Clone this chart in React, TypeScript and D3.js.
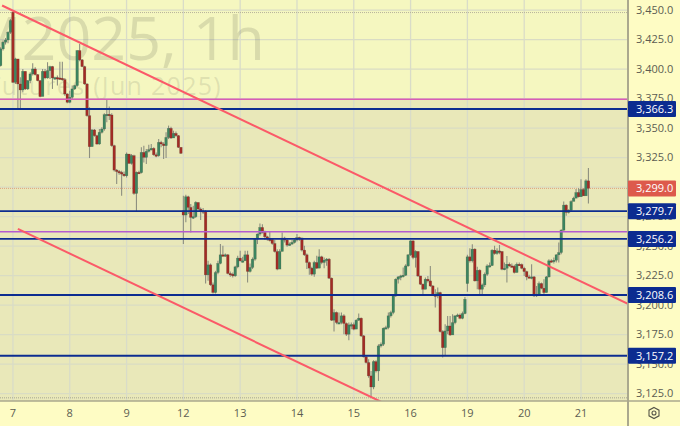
import React from 'react';
import * as d3 from 'd3';

const WIDTH = 680;
const HEIGHT = 426;

// hourly candles, open is the previous close unless listed in openGaps
const closes = [
  3417.2,3422.9,3424.8,3431.3,3441.2,3388.9,3408.7,3387.5,3382.4,3398.2,
  3383.3,3390.3,3396,3400.2,3395.4,3390.3,3376.8,3398.2,3392.6,3398.8,
  3402.2,3392.6,3392.9,3392.6,3392.3,3391.2,3379,3372,3376.2,3383.3,
  3386.1,3415.8,3407.9,3402.2,3387.5,3360.6,3334.3,3348.5,3343.7,3336.6,
  3346.5,3349.3,3361.5,3361.8,3361.2,3335.2,3314.5,3313.4,3312.6,3311.1,
  3309.7,3328.1,3320.2,3326.7,3294.7,3312.6,3312.3,3329.5,3325.3,3330.4,
  3331.8,3332.9,3327.5,3326.7,3338,3336.6,3335.2,3342.2,3349.9,3341.7,
  3345.6,3343.7,3333.8,3328.7,3276.4,3291.9,3282.9,3274.4,3275,3287.1,
  3281.5,3280,3279.5,3225.7,3234.2,3217.3,3210.8,3227.7,3235.4,3242.7,
  3241.9,3242.7,3226.9,3226.3,3224.9,3232.5,3239.9,3237.6,3237.6,3242.7,
  3228.6,3232,3239,3256,3260.3,3265.9,3261.7,3258,3256,3255.7,
  3252.3,3245.5,3230.6,3245.5,3256.9,3255.2,3250.9,3251.8,3253.2,3255.2,
  3257.4,3256.9,3246.7,3242.7,3236.2,3231.4,3226.3,3236.2,3231.4,3241,
  3236.2,3238.2,3239,3222.9,3187.3,3193.8,3185.3,3185.3,3191,3184.5,
  3175.4,3183.3,3183.5,3179.7,3187.3,3189,3174,3156.2,3151.4,3140.1,
  3130.7,3152.2,3144.3,3165.5,3166.9,3180.5,3181,3191,3193.8,3207.9,
  3222,3224,3224.8,3225.4,3233.3,3242.7,3254.5,3240.4,3245.5,3224.8,
  3217.8,3213.5,3222,3220.6,3216.3,3208.7,3207.9,3210.7,3177.6,3164,
  3178.2,3182.4,3174.8,3185.2,3190.9,3191.7,3188.9,3192.9,3205,3241,
  3237.6,3247.5,3220.6,3229.6,3213.5,3217.2,3226.2,3233.3,3233.6,3246.6,
  3243.8,3246,3245.5,3230.5,3231.3,3234.7,3233.3,3233,3227.7,3234.7,
  3234.5,3231.3,3228.5,3224,3223.4,3224,3207.9,3209.3,3218.3,3214.4,
  3210.7,3224,3237.6,3237.4,3238.1,3242.7,3244.6,3263.6,3284.8,3278.6,
  3280.5,3287.9,3290.7,3295.5,3291.9,3298,3292.7,3305.4,3299,
];

const highs = [
  3418.6,3424.3,3426.5,3432.2,3442.6,3448.9,3409.6,3408.7,3393.2,3400.2,
  3398.2,3390.9,3397.4,3405,3401.6,3396,3390.9,3400.2,3400.2,3405.9,
  3403,3402.8,3393.7,3394.6,3406.4,3406.4,3392.6,3379.6,3381.8,3386.1,
  3386.9,3416.3,3421.4,3408.7,3403,3388.1,3367.7,3349.3,3349.3,3344.5,
  3349.3,3350.7,3362.6,3374.8,3368.3,3362.6,3336,3315.4,3314.5,3314,
  3313.4,3329.5,3328.1,3328.1,3327.5,3313.4,3314,3333.8,3335.2,3332.4,
  3336,3336.6,3333.8,3329.5,3340.8,3339.4,3338,3346.5,3352.2,3351.3,
  3347.9,3347.3,3344.2,3333.8,3292.8,3293.6,3292.8,3285.7,3284.3,3288,
  3287.1,3282.9,3282.3,3280.6,3237.6,3235.4,3219.2,3229.1,3237.6,3251.8,
  3250.4,3243.9,3243.3,3228.6,3227.7,3233.4,3241.9,3246.1,3241,3246.1,
  3246.1,3235.4,3240.5,3256.9,3260.8,3269.3,3268.7,3263.1,3258.8,3262.5,
  3256.9,3255.2,3247.5,3247.5,3261.7,3258,3256,3253.2,3255.2,3256,
  3260.3,3258,3257.4,3250.4,3243.9,3237,3232.5,3237.6,3241.9,3247.5,
  3241.9,3240.5,3239.9,3239.9,3223.5,3196.6,3194.6,3193.8,3193.8,3192.4,
  3185.3,3185.3,3185.3,3185.3,3188.1,3192.9,3189.6,3174.8,3157,3154.2,
  3144.3,3153.4,3153.4,3166.9,3168.3,3181,3182.5,3193.8,3195.2,3209.3,
  3222.9,3224.8,3225.7,3231.9,3234.7,3243.2,3255.1,3255.1,3246.6,3246,
  3224.8,3218.3,3223.4,3224.8,3233.3,3217.2,3213.5,3214.9,3211.5,3178.7,
  3183.8,3190.9,3190.9,3192.3,3191.7,3192.9,3192.9,3194.6,3207,3242.7,
  3248.3,3251.7,3248.3,3232.5,3230.5,3218.3,3227.7,3234.7,3236.1,3247.5,
  3250.3,3248.3,3251.1,3246,3236.1,3241.8,3236.1,3235.3,3234.2,3236.1,
  3236.1,3235.3,3232.5,3229.1,3225.7,3234.7,3224.8,3216.3,3220,3219.2,
  3222,3224.8,3239,3239,3240.4,3243.2,3253.1,3264.4,3287.9,3285.6,
  3281.4,3289,3291.9,3298.4,3299.2,3306.8,3299.2,3306.8,3316.2,
];

const lows = [
  3402.2,3415.8,3420.9,3422,3429.9,3388.3,3387.5,3367.1,3367.1,3380.4,
  3382.4,3382.4,3388.1,3394.6,3394.6,3389.8,3376.2,3385.2,3391.5,3392,
  3391.7,3383.3,3390.9,3386.1,3390.9,3390.3,3377.6,3371.1,3371.1,3374.8,
  3382.4,3385.2,3406.7,3401.6,3386.9,3359.8,3324.7,3342.2,3342.8,3336,
  3336,3345.6,3347.9,3355,3356.9,3334.3,3313.4,3302.7,3310.6,3292.8,
  3308.9,3308.3,3319.6,3319.1,3293.6,3279.5,3311.1,3311.7,3321,3319.6,
  3329.5,3331,3326.7,3325.3,3325.9,3333.8,3323.9,3324.7,3340.8,3340.8,
  3342.2,3342.8,3333.2,3328.1,3251.8,3270.2,3277.2,3261.7,3273,3273.8,
  3280,3272.1,3277.2,3218.4,3220.7,3216.4,3209.9,3209.9,3226.3,3234.8,
  3241,3241,3226.3,3224.1,3223.5,3224.1,3231.4,3237,3236.2,3241.9,
  3219.2,3227.7,3230.6,3237.6,3251.8,3258.8,3260.8,3255.2,3254.6,3254,
  3251.2,3244.7,3229.7,3237.6,3246.1,3253.2,3249.5,3250.4,3251.2,3252.3,
  3254,3254.6,3245.5,3241.6,3230.6,3225.7,3224.9,3224.1,3230.6,3231.4,
  3234.8,3231.4,3233.4,3222.1,3186.7,3177.7,3183.9,3183.9,3183.9,3175.4,
  3174,3170.3,3179.7,3178.8,3182.5,3186.7,3173.1,3155.6,3150.5,3138.6,
  3121.7,3128.8,3142.9,3135.8,3164.1,3165.5,3179.7,3179.7,3189.6,3192.4,
  3207,3218.3,3221.2,3223.4,3224.8,3232.5,3241.8,3239,3231.9,3224,
  3217.2,3207.9,3213.5,3219.2,3215.5,3207.9,3198,3205.9,3176.8,3155.6,
  3157,3175.4,3173.9,3177.6,3183.8,3190.1,3188.1,3188.1,3192.3,3211.5,
  3236.1,3236.1,3220,3213.5,3208.7,3207.9,3215.5,3224.8,3231.9,3233.3,
  3242.7,3242.7,3243.2,3229.6,3229.6,3219.2,3232.5,3231.9,3226.8,3227.7,
  3233.3,3230.5,3224.8,3221.2,3222.9,3222,3207,3207,3207.9,3213.5,
  3209.3,3210.7,3223.4,3236.1,3235.3,3236.1,3236.1,3243.2,3263,3275.7,
  3277.7,3280,3289.9,3290.7,3291.3,3291.9,3292.7,3292.7,3286.2,
];

const openGaps = new Map([[0, 3403], [5, 3448.3], [74, 3280], [189, 3218.3]]);

const priceTicks = [3450, 3425, 3400, 3375, 3350, 3325, 3300, 3275, 3250, 3225, 3200, 3175, 3150, 3125];
const dayLabels = ['7', '8', '9', '12', '13', '14', '15', '16', '19', '20', '21'];
const dayStarts = [5, 28, 51, 74, 97, 120, 143, 166, 189, 212, 235];

const levels = [3366.3, 3279.7, 3256.2, 3208.6, 3157.2];
const magentaLevel = 3374.6;
const purpleLevel = 3262.2;
const lastPrice = 3299;
const chartHigh = 3448;
const chartLow = 3121.5;

// [bar index, price] ends of the two hand drawn channel lines
const channelUpper = [[0.6, 3454], [254, 3201.1]];
const channelLower = [[7, 3264.7], [154, 3118.2]];

const PLOT_RIGHT = 628;
const PLOT_BOTTOM = 401;

const x = d3.scaleLinear().domain([0, 235]).range([0.6, 581]);
const y = d3.scaleLinear().domain([3450, 3125]).range([10.2, 393.7]);
const fmt = d3.format(',.1f');
const priceLine = d3.line().x((d) => x(d[0])).y((d) => y(d[1]));

const FONT = '"Open Sans", sans-serif';
const BLUE = '#0c2c90';
const UP = '#3c8560';
const DOWN = '#a32b25';

export default function App() {
  const barW = 2.6;
  return (
    <svg width={WIDTH} height={HEIGHT} style={{ position: 'fixed', left: 0, top: 0, background: '#fefcc4' }}>
      <defs>
        <clipPath id="plot"><rect x={0} y={0} width={PLOT_RIGHT} height={PLOT_BOTTOM} /></clipPath>
      </defs>

      <g clipPath="url(#plot)">
        {/* zones either side of the magenta level */}
        <rect x={0} y={0} width={PLOT_RIGHT} height={y(magentaLevel)} fill="#f5f7c0" />
        <rect x={0} y={y(magentaLevel)} width={PLOT_RIGHT} height={PLOT_BOTTOM - y(magentaLevel)} fill="#e9e8b9" />

        {/* grid */}
        {priceTicks.map((t) => (
          <line key={t} x1={0} x2={PLOT_RIGHT} y1={y(t)} y2={y(t)} stroke="#d9dcc4" strokeWidth={1.3} />
        ))}
        {dayStarts.map((d) => (
          <line key={d} x1={x(d)} x2={x(d)} y1={0} y2={PLOT_BOTTOM} stroke="#d9dcc8" strokeWidth={1.3} />
        ))}

        {/* watermark */}
        <text x={265} y={60} textAnchor="end" fontFamily={FONT} fontSize={61} fill="#6b6f5a" fillOpacity={0.2}>GCM2025, 1h</text>
        <text x={222} y={95} textAnchor="end" fontFamily={FONT} fontSize={25} letterSpacing={1.3} fill="#6b6f5a" fillOpacity={0.17}>Gold Futures (Jun 2025)</text>

        {/* dotted high / low / last price */}
        <line x1={0} x2={PLOT_RIGHT} y1={y(chartHigh)} y2={y(chartHigh)} stroke="#b7b39c" strokeDasharray="1 1" />
        <line x1={0} x2={PLOT_RIGHT} y1={y(chartLow)} y2={y(chartLow)} stroke="#a5a592" strokeDasharray="1 1" />
        <line x1={0} x2={PLOT_RIGHT} y1={y(lastPrice)} y2={y(lastPrice)} stroke="#dfa07e" strokeDasharray="1 1" />

        {/* candles */}
        {closes.map((c, i) => {
          const o = openGaps.has(i) ? openGaps.get(i) : closes[i - 1];
          const top = y(Math.max(o, c));
          const h = Math.max(1.5, Math.abs(y(o) - y(c)));
          return (
            <g key={i}>
              <line x1={x(i)} x2={x(i)} y1={y(highs[i])} y2={y(lows[i])} stroke="#8d8f80" strokeWidth={1.1} />
              <rect x={x(i) - barW / 2} y={top} width={barW} height={h} fill={c >= o ? UP : DOWN} stroke="#3a3a2c" strokeOpacity={0.35} strokeWidth={0.5} />
            </g>
          );
        })}

        {/* levels */}
        <line x1={0} x2={PLOT_RIGHT} y1={y(magentaLevel)} y2={y(magentaLevel)} stroke="#d95cb4" strokeWidth={1.5} />
        <line x1={0} x2={PLOT_RIGHT} y1={y(purpleLevel)} y2={y(purpleLevel)} stroke="#b45ccf" strokeWidth={1.5} />
        {levels.map((l) => (
          <line key={l} x1={0} x2={PLOT_RIGHT} y1={y(l)} y2={y(l)} stroke={BLUE} strokeWidth={1.9} />
        ))}

        {/* channel */}
        <path d={priceLine(channelUpper)} fill="none" stroke="#fb5a68" strokeWidth={2} />
        <path d={priceLine(channelLower)} fill="none" stroke="#fb5a68" strokeWidth={2} />
      </g>

      {/* axes */}
      <line x1={PLOT_RIGHT} x2={PLOT_RIGHT} y1={0} y2={HEIGHT} stroke="#aaa88e" strokeWidth={2} />
      <line x1={0} x2={WIDTH} y1={PLOT_BOTTOM} y2={PLOT_BOTTOM} stroke="#aaa88e" strokeWidth={1.5} />
      {priceTicks.map((t) => (
        <text key={t} x={636} y={y(t) + 3.5} fontFamily={FONT} fontSize={11} fill="#5c5c52">{fmt(t)}</text>
      ))}
      {dayLabels.map((d, i) => (
        <text key={d} x={x(dayStarts[i])} y={417} textAnchor="middle" fontFamily={FONT} fontSize={11} fill="#5c5c52">{d}</text>
      ))}

      {/* price labels */}
      {levels.map((l) => (
        <g key={l}>
          <rect x={628} y={y(l) - 8} width={48} height={16} rx={1} fill={BLUE} />
          <text x={636} y={y(l) + 4} fontFamily={FONT} fontSize={11} fontWeight={500} fill="#ffffff">{fmt(l)}</text>
        </g>
      ))}
      <rect x={628} y={y(lastPrice) - 8} width={48} height={16} rx={1} fill="#dd5a4c" />
      <text x={636} y={y(lastPrice) + 4} fontFamily={FONT} fontSize={11} fontWeight={500} fill="#ffffff">{fmt(lastPrice)}</text>

      {/* settings icon */}
      <path d="M654 407.5 L659 410.2 L659 415.8 L654 418.5 L649 415.8 L649 410.2 Z" fill="none" stroke="#555548" strokeWidth={1.1} />
      <circle cx={654} cy={413} r={2} fill="none" stroke="#555548" strokeWidth={1.1} />
    </svg>
  );
}
